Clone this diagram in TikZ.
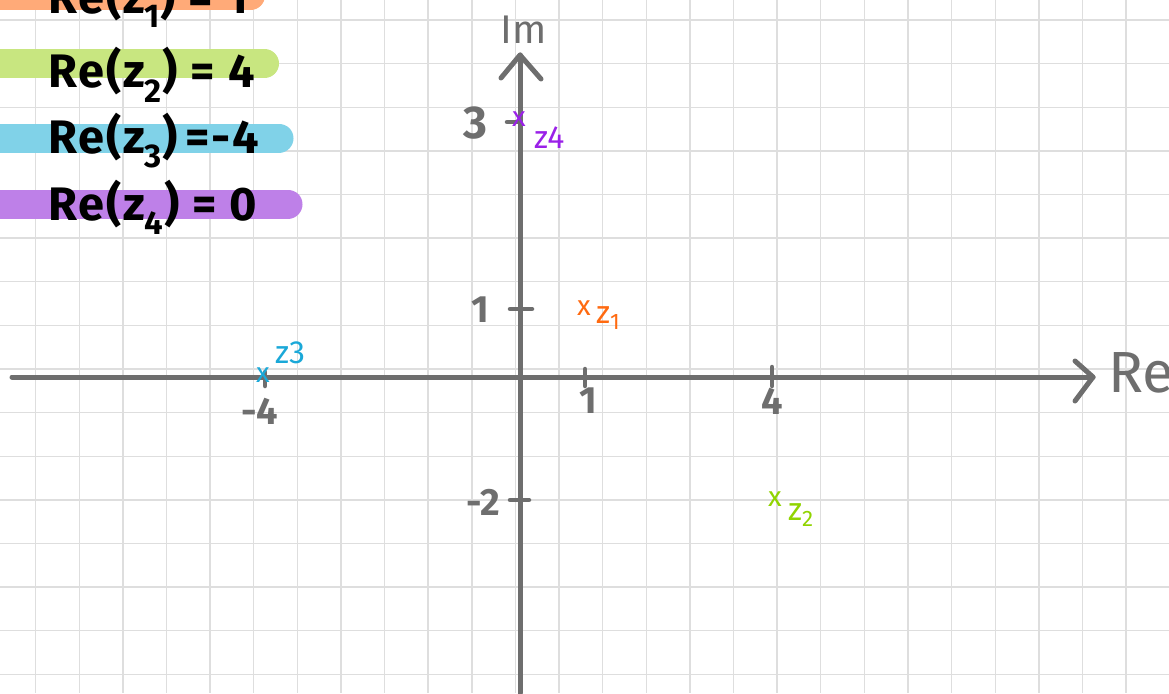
\documentclass[tikz,border=0pt]{standalone}
\usepackage{fontspec}
\setmainfont{Fira Sans}
\definecolor{axisgray}{HTML}{6E6E6E}
\definecolor{gridgray}{HTML}{DEDEDE}
\definecolor{barorange}{HTML}{FFAA78}
\definecolor{bargreen}{HTML}{C8E680}
\definecolor{barblue}{HTML}{80D2E8}
\definecolor{barpurple}{HTML}{BE80E8}
\definecolor{ptorange}{HTML}{FF6A10}
\definecolor{ptgreen}{HTML}{90D400}
\definecolor{ptblue}{HTML}{1AA8D8}
\definecolor{ptpurple}{HTML}{9A20E8}
\begin{document}
\begin{tikzpicture}[x=1pt,y=-1pt,
  gridline/.style={draw=gridgray,line width=1.4pt},
  axisline/.style={draw=axisgray,line width=5pt,line cap=round,line join=round},
  tickline/.style={draw=axisgray,line width=4.5pt,line cap=round},
  bar/.style={line width=29pt,line cap=round},
  legendtext/.style={text=black,font=\fontsize{47}{52}\selectfont\bfseries\addfontfeature{LetterSpace=4},anchor=base west,inner sep=0pt},
  axislabel/.style={text=axisgray,font=\fontsize{40}{48}\selectfont,inner sep=0pt},
  numlabel/.style={text=axisgray,font=\fontsize{38}{44}\selectfont\bfseries,inner sep=0pt},
  ptlabel/.style={font=\fontsize{32}{36}\selectfont,inner sep=0pt},
  crossmark/.style={font=\fontsize{28}{32}\selectfont,inner sep=0pt}]
\useasboundingbox (0,0) rectangle (1169,693);
\clip (0,0) rectangle (1169,693);
\fill[white] (0,0) rectangle (1169,693);
% grid
\foreach \i in {0,...,26} \draw[gridline] ({35.6+43.62*\i},0) -- ({35.6+43.62*\i},693);
\foreach \j in {0,...,15} \draw[gridline] (0,{20+43.62*\j}) -- (1169,{20+43.62*\j});
% legend bars
\draw[bar,barorange] (-20,-4.5) -- (250.5,-4.5);
\draw[bar,bargreen] (-20,63.5) -- (264.5,63.5);
\draw[bar,barblue] (-20,138) -- (279,138);
\draw[bar,barpurple] (-20,204) -- (288,204);
% legend texts
\node[legendtext] (leg1) at (48,14) {Re(z\textsubscript{1}) = 1};
\node[legendtext] (leg2) at (48,88) {Re(z\textsubscript{2}) = 4};
\node[legendtext] (leg3) at (48,153) {Re(z\textsubscript{3})\,=-4};
\node[legendtext] (leg4) at (48,220) {Re(z\textsubscript{4}) = 0};
% axes
\coordinate (xstart) at (12,377);
\coordinate (xend) at (1093,377);
\coordinate (ystart) at (520,693);
\coordinate (yend) at (520,55);
\draw[axisline] (xstart) -- (xend);
\draw[axisline] (1075,361) -- (xend) -- (1075,401);
\draw[axisline] (ystart) -- (yend);
\draw[axisline] (501,78) -- (yend) -- (541,79);
\node[axislabel,anchor=base west] (re) at (1108,392) {\fontsize{58}{64}\selectfont Re};
\node[axislabel,anchor=base west] (im) at (500,44) {Im};
% ticks
\coordinate (ty3a) at (507,122); \coordinate (ty3b) at (520,122);
\coordinate (ty1a) at (510,309); \coordinate (ty1b) at (532,309);
\coordinate (tym2a) at (510,500); \coordinate (tym2b) at (529,500);
\coordinate (tx1a) at (585,369); \coordinate (tx1b) at (585,386);
\coordinate (tx4a) at (772,367); \coordinate (tx4b) at (772,386);
\coordinate (txm4a) at (265,372); \coordinate (txm4b) at (265,386);
\draw[tickline] (ty3a) -- (ty3b);
\draw[tickline] (ty1a) -- (ty1b);
\draw[tickline] (tym2a) -- (tym2b);
\draw[tickline] (tx1a) -- (tx1b);
\draw[tickline] (tx4a) -- (tx4b);
\draw[tickline] (txm4a) -- (txm4b);
\node[numlabel,anchor=base] (n3) at (475,138) {\fontsize{46}{50}\selectfont 3};
\node[numlabel,anchor=base] (n1y) at (480,322) {1};
\node[numlabel,anchor=base] (nm2) at (483,515) {-2};
\node[numlabel,anchor=base] (nm4) at (260,424) {-4};
\node[numlabel,anchor=base] (n1x) at (588,413) {1};
\node[numlabel,anchor=base] (n4x) at (772,414) {4};
% points
\node[crossmark,text=ptpurple] (z4) at (519,119) {x};
\node[ptlabel,text=ptpurple,anchor=west] (z4l) at (534,138) {z4};
\node[crossmark,text=ptorange] (z1) at (584,308) {x};
\node[ptlabel,text=ptorange,anchor=west] (z1l) at (596,318) {z\textsubscript{1}};
\node[crossmark,text=ptblue] (z3) at (263,375) {x};
\node[ptlabel,text=ptblue,anchor=west] (z3l) at (275,353) {z3};
\node[crossmark,text=ptgreen] (z2) at (775,499) {x};
\node[ptlabel,text=ptgreen,anchor=west] (z2l) at (788,515) {z\textsubscript{2}};
\end{tikzpicture}
\end{document}
